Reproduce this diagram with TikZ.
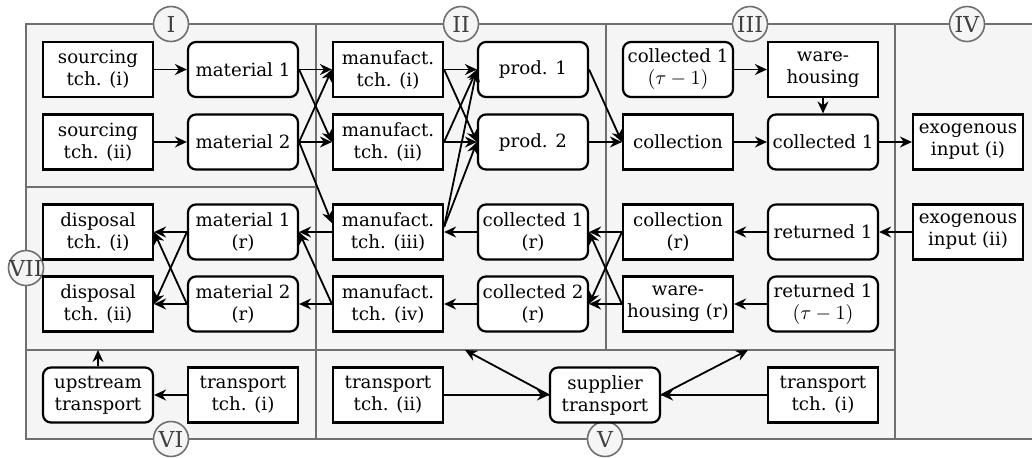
\documentclass[tikz,border=0pt]{standalone}
\usepackage{fontspec}
\setmainfont{DejaVu Serif}
\usetikzlibrary{arrows.meta}
\definecolor{panelfill}{HTML}{F5F5F5}
\definecolor{panelline}{HTML}{707070}
\definecolor{labeltext}{HTML}{404040}
\newcommand{\taum}{{\fontsize{10}{11}\selectfont$(\tau-1)$}}
\begin{document}
\begin{tikzpicture}[x=0.5pt,y=-0.5pt,
  panel/.style={draw=panelline, fill=panelfill, line width=1pt},
  box/.style={draw, fill=white, line width=1.1pt, minimum width=55pt, minimum height=27.5pt, inner sep=0pt, align=center, font=\fontsize{9.1}{11}\selectfont},
  rbox/.style={box, rounded corners=4pt},
  arr/.style={line width=0.9pt, -{Stealth[length=6pt,width=5.5pt,inset=2pt]}},
  circ/.style={circle, draw=panelline, fill=panelfill, line width=0.8pt, minimum size=17.5pt, inner sep=0pt},
  num/.style={text=labeltext, inner sep=0pt, font=\fontsize{11}{11}\selectfont}]
\clip (0,0) rectangle (1032,457);
% panels
\draw[panel] (26,24) rectangle (316,187);
\draw[panel] (26,187) rectangle (316,350);
\draw[panel] (26,350) rectangle (316,439);
\draw[panel] (316,24) rectangle (606,350);
\draw[panel] (606,24) rectangle (895,350);
\draw[panel] (316,350) rectangle (895,439);
\draw[panel] (895,24) rectangle (1039,439);
% panel labels
\node[circ] (cI) at (171,24) {}; \node[num] (tI) at (cI) {I};
\node[circ] (cII) at (461,24) {}; \node[num] (tII) at (cII) {II};
\node[circ] (cIII) at (750,24) {}; \node[num] (tIII) at (cIII) {III};
\node[circ] (cIV) at (967,24) {}; \node[num] (tIV) at (cIV) {IV};
\node[circ] (cV) at (605,439) {}; \node[num] (tV) at (cV) {V};
\node[circ] (cVI) at (171,439) {}; \node[num] (tVI) at (cVI) {VI};
\node[circ] (cVII) at (26,268) {}; \node[num] (tVII) at (cVII) {VII};
% nodes
\node[box] (src1) at (98,69.5) {sourcing\\tch. (i)};
\node[box] (src2) at (98,142) {sourcing\\tch. (ii)};
\node[rbox] (mat1) at (243,69.5) {material 1};
\node[rbox] (mat2) at (243,142) {material 2};
\node[box] (manu1) at (388,69.5) {manufact.\\tch. (i)};
\node[box] (manu2) at (388,142) {manufact.\\tch. (ii)};
\node[box] (manu3) at (388,232) {manufact.\\tch. (iii)};
\node[box] (manu4) at (388,304) {manufact.\\tch. (iv)};
\node[rbox] (prod1) at (533,69.5) {prod. 1};
\node[rbox] (prod2) at (533,142) {prod. 2};
\node[rbox] (ct1) at (678,69.5) {collected 1\\\taum};
\node[box] (wh) at (823,69.5) {ware-\\housing};
\node[box] (coll) at (678,142) {collection};
\node[rbox] (cd1) at (823,142) {collected 1};
\node[box] (exo1) at (968,142) {exogenous\\input (i)};
\node[box] (disp1) at (98,232) {disposal\\tch. (i)};
\node[box] (disp2) at (98,304) {disposal\\tch. (ii)};
\node[rbox] (mat1r) at (243,232) {material 1\\(r)};
\node[rbox] (mat2r) at (243,304) {material 2\\(r)};
\node[rbox] (cd1r) at (533,232) {collected 1\\(r)};
\node[rbox] (cd2r) at (533,304) {collected 2\\(r)};
\node[box] (collr) at (678,232) {collection\\(r)};
\node[box] (whr) at (678,304) {ware-\\housing (r)};
\node[rbox] (ret1) at (823,232) {returned 1};
\node[rbox] (ret1t) at (823,304) {returned 1\\\taum};
\node[box] (exo2) at (968,232) {exogenous\\input (ii)};
\node[rbox] (up) at (98,395) {upstream\\transport};
\node[box] (tr1L) at (243,395) {transport\\tch. (i)};
\node[box] (tr2) at (388,395) {transport\\tch. (ii)};
\node[rbox] (sup) at (605,395) {supplier\\transport};
\node[box] (tr1R) at (823,395) {transport\\tch. (i)};
\coordinate (upend) at (98,350);
\coordinate (pII) at (465,350);
\coordinate (pIII) at (748,350);
% edges
\draw[arr] (src1) -- (mat1);
\draw[arr] (src2) -- (mat2);
\draw[arr] (mat1.east) -- (manu1.west);
\draw[arr] (mat1.east) -- (manu2.west);
\draw[arr] (mat2.east) -- (manu1.west);
\draw[arr] (mat2.east) -- (manu2.west);
\draw[arr] (mat2.east) -- ([yshift=4.5pt]manu3.west);
\draw[arr] (manu1.east) -- (prod1.west);
\draw[arr] (manu1.east) -- (prod2.west);
\draw[arr] (manu2.east) -- (prod1.west);
\draw[arr] (manu2.east) -- (prod2.west);
\draw[arr] ([yshift=2.5pt]manu3.east) -- (prod1.west);
\draw[arr] ([yshift=2.5pt]manu3.east) -- (prod2.west);
\draw[arr] (prod1.east) -- (coll.west);
\draw[arr] (prod2.east) -- (coll.west);
\draw[arr] (ct1) -- (wh);
\draw[arr] (wh) -- (cd1);
\draw[arr] (coll) -- (cd1);
\draw[arr] (cd1) -- (exo1);
\draw[arr] (exo2) -- (ret1);
\draw[arr] (ret1) -- (collr);
\draw[arr] (ret1t) -- (whr);
\draw[arr] (collr.west) -- (cd1r.east);
\draw[arr] (collr.west) -- (cd2r.east);
\draw[arr] (whr.west) -- (cd1r.east);
\draw[arr] (whr.west) -- (cd2r.east);
\draw[arr] (cd1r) -- (manu3);
\draw[arr] (cd2r) -- (manu4);
\draw[arr] (manu3.west) -- (mat1r.east);
\draw[arr] (manu4.west) -- (mat1r.east);
\draw[arr] (manu4.west) -- (mat2r.east);
\draw[arr] (mat1r.west) -- (disp1.east);
\draw[arr] (mat1r.west) -- (disp2.east);
\draw[arr] (mat2r.west) -- (disp1.east);
\draw[arr] (mat2r.west) -- (disp2.east);
\draw[arr] (tr1L) -- (up);
\draw[arr] (up) -- (upend);
\draw[arr] (tr2) -- (sup);
\draw[arr] (tr1R) -- (sup);
\draw[arr] (sup.west) -- (pII);
\draw[arr] (sup.east) -- (pIII);
\end{tikzpicture}
\end{document}
